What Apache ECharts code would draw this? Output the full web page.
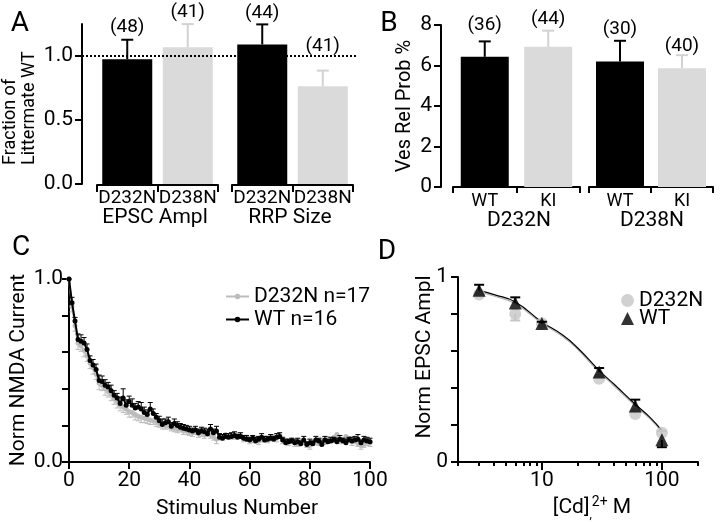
<!DOCTYPE html>
<html><head><meta charset="utf-8">
<script src="https://cdn.jsdelivr.net/npm/echarts@6/dist/echarts.min.js"></script>
<style>html,body{margin:0;padding:0;background:#fff}#c{width:720px;height:522px}</style>
</head><body><div id="c"></div>
<script>
// ---------- Panel A data ----------
const aCategories = ['D232N', 'D238N'];
const aGroupNames = ['EPSC Ampl', 'RRP Size'];
const aMeansG1 = [0.975, 1.068];
const aErrG1 = [0.152, 0.181];
const aNG1 = ['(48)', '(41)'];
const aMeansG2 = [1.09, 0.764];
const aErrG2 = [0.157, 0.122];
const aNG2 = ['(44)', '(41)'];
const aRefLine = 1.0;
const aTicks = [0, 0.5, 1.0];

// ---------- Panel B data ----------
const bCategories = ['WT', 'KI'];
const bGroupNames = ['D232N', 'D238N'];
const bMeansG1 = [6.43, 6.92];
const bErrG1 = [0.76, 0.8];
const bNG1 = ['(36)', '(44)'];
const bMeansG2 = [6.2, 5.87];
const bErrG2 = [1.02, 0.64];
const bNG2 = ['(30)', '(40)'];

// ---------- Panel C data (stimulus 0..100) ----------
const cWT = [1.00, 0.87, 0.77, 0.67, 0.66, 0.65, 0.615, 0.555, 0.53, 0.505,
 0.445, 0.44, 0.42, 0.41, 0.39, 0.365, 0.35, 0.32, 0.35, 0.31,
 0.33, 0.31, 0.295, 0.30, 0.29, 0.27, 0.26, 0.29, 0.265, 0.245,
 0.225, 0.205, 0.215, 0.22, 0.195, 0.21, 0.20, 0.19, 0.185, 0.18,
 0.175, 0.17, 0.175, 0.16, 0.17, 0.165, 0.155, 0.18, 0.16, 0.17,
 0.135, 0.13, 0.14, 0.135, 0.14, 0.145, 0.135, 0.14, 0.13, 0.125,
 0.12, 0.13, 0.115, 0.125, 0.135, 0.12, 0.125, 0.13, 0.125, 0.135,
 0.14, 0.12, 0.105, 0.11, 0.115, 0.105, 0.11, 0.10, 0.12, 0.095,
 0.105, 0.10, 0.12, 0.115, 0.095, 0.12, 0.11, 0.115, 0.12, 0.11,
 0.125, 0.115, 0.105, 0.12, 0.115, 0.12, 0.125, 0.105, 0.12, 0.115, 0.11];
const cWTErr = [0, 0.03, 0.02, 0.03, 0.035, 0.03, 0.03, 0.025, 0.03, 0.03,
 0.03, 0.03, 0.03, 0.025, 0.03, 0.025, 0.025, 0.035, 0.05, 0.03,
 0.03, 0.035, 0.025, 0.03, 0.035, 0.03, 0.025, 0.035, 0.025, 0.02,
 0.025, 0.03, 0.02, 0.025, 0.02, 0.025, 0.02, 0.02, 0.02, 0.02,
 0.02, 0.015, 0.02, 0.02, 0.02, 0.02, 0.025, 0.025, 0.02, 0.025,
 0.02, 0.02, 0.015, 0.02, 0.02, 0.02, 0.015, 0.02, 0.015, 0.02,
 0.015, 0.015, 0.02, 0.015, 0.02, 0.02, 0.015, 0.02, 0.015, 0.02,
 0.02, 0.015, 0.02, 0.015, 0.015, 0.02, 0.02, 0.015, 0.02, 0.015,
 0.02, 0.015, 0.02, 0.015, 0.02, 0.02, 0.015, 0.02, 0.015, 0.02,
 0.02, 0.015, 0.02, 0.015, 0.02, 0.02, 0.025, 0.015, 0.02, 0.02, 0.02];
const cKI = [1.00, 0.85, 0.745, 0.65, 0.635, 0.61, 0.58, 0.54, 0.515, 0.48,
 0.43, 0.42, 0.40, 0.385, 0.37, 0.345, 0.33, 0.31, 0.30, 0.29,
 0.275, 0.27, 0.26, 0.25, 0.245, 0.24, 0.235, 0.23, 0.225, 0.22,
 0.21, 0.205, 0.20, 0.20, 0.19, 0.185, 0.18, 0.18, 0.17, 0.17,
 0.165, 0.16, 0.165, 0.155, 0.16, 0.15, 0.155, 0.15, 0.14, 0.125,
 0.14, 0.135, 0.15, 0.14, 0.145, 0.14, 0.15, 0.145, 0.13, 0.135,
 0.12, 0.12, 0.13, 0.115, 0.125, 0.13, 0.12, 0.135, 0.14, 0.13,
 0.145, 0.12, 0.115, 0.11, 0.12, 0.105, 0.10, 0.115, 0.11, 0.10,
 0.09, 0.11, 0.115, 0.105, 0.12, 0.11, 0.13, 0.12, 0.135, 0.15,
 0.12, 0.125, 0.14, 0.13, 0.11, 0.12, 0.10, 0.09, 0.095, 0.11, 0.105];
const cKIErr = [0, 0.03, 0.03, 0.035, 0.03, 0.035, 0.03, 0.03, 0.035, 0.03,
 0.035, 0.03, 0.035, 0.03, 0.035, 0.03, 0.035, 0.03, 0.03, 0.03,
 0.03, 0.025, 0.03, 0.025, 0.03, 0.025, 0.025, 0.025, 0.02, 0.025,
 0.02, 0.025, 0.02, 0.02, 0.02, 0.02, 0.02, 0.015, 0.02, 0.02,
 0.02, 0.02, 0.015, 0.02, 0.02, 0.02, 0.015, 0.02, 0.02, 0.025,
 0.02, 0.015, 0.02, 0.015, 0.02, 0.015, 0.02, 0.015, 0.02, 0.015,
 0.02, 0.015, 0.02, 0.02, 0.015, 0.02, 0.015, 0.02, 0.015, 0.02,
 0.015, 0.02, 0.015, 0.02, 0.015, 0.02, 0.015, 0.02, 0.015, 0.02,
 0.02, 0.015, 0.02, 0.015, 0.02, 0.015, 0.02, 0.015, 0.02, 0.02,
 0.02, 0.015, 0.02, 0.015, 0.02, 0.02, 0.015, 0.02, 0.015, 0.02, 0.02];

// ---------- Panel D data ----------
const dDose = [3, 6, 10, 30, 60, 100];
const dWT = [0.928, 0.86, 0.748, 0.486, 0.303, 0.12];
const dWTErr = [0.03, 0.03, 0.01, 0.022, 0.034, -0.04];
const dKI = [0.905, 0.80, 0.75, 0.45, 0.26, 0.158];
const dKIErr = [0.01, -0.035, 0.01, 0.01, 0.01, 0.01];
const dFitDose = [3, 4, 6, 10, 15, 20, 30, 40, 60, 80, 100];
const dFitWT = [0.928, 0.905, 0.865, 0.757, 0.685, 0.615, 0.495, 0.42, 0.312, 0.24, 0.17];
const dFitKI = [0.92, 0.897, 0.855, 0.75, 0.677, 0.607, 0.486, 0.411, 0.304, 0.232, 0.163];
const dMajorTicks = [10, 100];
const dMinorTicks = [2, 3, 4, 5, 6, 7, 8, 9, 20, 30, 40, 50, 60, 70, 80, 90, 200];

// ---------- styles ----------
const FONT = 'Roboto, "DejaVu Sans", sans-serif';
const BLACK = '#000';
const BAR_GRAY = '#dadada';
const ERR_GRAY = '#d2d2d2';
const C_GRAY = '#bcbcbc';
const D_GRAY = '#c6c6c6';
const barColors = [BLACK, BAR_GRAY];
const barErrColors = [BLACK, ERR_GRAY];

const axisLine = {show: true, onZero: false, lineStyle: {color: BLACK, width: 2}};
function tick(len) { return {show: true, inside: false, length: len, lineStyle: {color: BLACK, width: 2}}; }
function lab(size, margin) { return {show: true, color: BLACK, fontSize: size, fontFamily: FONT, margin: margin}; }

function errorBars(o) {
  return {
    type: 'custom', xAxisIndex: o.xi, yAxisIndex: o.yi, z: o.z || 5, silent: true,
    data: o.ys.map((y, i) => [o.xs[i], y, o.errs[i], i]),
    renderItem(params, api) {
      const i = api.value(3);
      const p0 = api.coord([api.value(0), api.value(1)]);
      const p1 = api.coord([api.value(0), api.value(1) + api.value(2)]);
      const col = Array.isArray(o.color) ? o.color[i] : o.color;
      const st = {stroke: col, lineWidth: o.lw};
      const ch = [
        {type: 'line', shape: {x1: p0[0], y1: p0[1], x2: p1[0], y2: p1[1]}, style: st},
        {type: 'line', shape: {x1: p1[0] - o.cap, y1: p1[1], x2: p1[0] + o.cap, y2: p1[1]}, style: st}
      ];
      if (o.labels) {
        ch.push({type: 'text', x: p1[0], y: p1[1] - o.labelOffsets[i],
          style: {text: o.labels[i], fill: BLACK, fontSize: 19, fontFamily: FONT,
                  align: 'center', verticalAlign: 'middle', textAlign: 'center', textVerticalAlign: 'middle'}});
      }
      return {type: 'group', children: ch};
    }
  };
}
function bars(xi, yi, means, width) {
  return {type: 'bar', xAxisIndex: xi, yAxisIndex: yi, barWidth: width, z: 3, silent: true,
    data: means.map((v, i) => ({value: v, itemStyle: {color: barColors[i]}}))};
}
function txt(t, x, y, size, extra) {
  return Object.assign({type: 'text', x: x, y: y, silent: true,
    style: Object.assign({text: t, fill: BLACK, fontSize: size, fontFamily: FONT,
      align: 'center', verticalAlign: 'middle', textAlign: 'center', textVerticalAlign: 'middle'}, (extra && extra.style) || {})},
    (extra && extra.el) || {});
}
function rot(t, x, y, size) { return txt(t, x, y, size, {el: {rotation: Math.PI / 2}}); }

const catAxisA = (gi) => ({gridIndex: gi, type: 'category', data: aCategories, offset: 1,
  axisLine: axisLine, axisTick: Object.assign(tick(7), {alignWithLabel: false, interval: 0}),
  axisLabel: Object.assign(lab(19, 4), {interval: 0, hideOverlap: false}), splitLine: {show: false}});
const catAxisB = (gi) => ({gridIndex: gi, type: 'category', data: bCategories,
  axisLine: axisLine, axisTick: Object.assign(tick(6), {alignWithLabel: false, interval: 0}),
  axisLabel: Object.assign(lab(18, 5), {interval: 0, hideOverlap: false}), splitLine: {show: false}});

const option = {
  animation: false,
  textStyle: {fontFamily: FONT},
  grid: [
    {left: 82, top: 24, width: 276, height: 160, outerBoundsMode: 'none'},
    {left: 97, top: 24, width: 121, height: 160, outerBoundsMode: 'none'},
    {left: 232, top: 24, width: 121, height: 160, outerBoundsMode: 'none'},
    {left: 441, top: 25, width: 272, height: 162, outerBoundsMode: 'none'},
    {left: 453, top: 25, width: 127, height: 162, outerBoundsMode: 'none'},
    {left: 589, top: 25, width: 124, height: 162, outerBoundsMode: 'none'},
    {left: 69, top: 279, width: 301, height: 183, outerBoundsMode: 'none'},
    {left: 458, top: 277, width: 240, height: 185, outerBoundsMode: 'none'}
  ],
  xAxis: [
    {gridIndex: 0, type: 'value', min: 0, max: 1, show: false},
    catAxisA(1), catAxisA(2),
    {gridIndex: 3, type: 'value', min: 0, max: 1, show: false},
    catAxisB(4), catAxisB(5),
    {gridIndex: 6, type: 'value', min: 0, max: 100, interval: 20, axisLine: axisLine, axisTick: tick(7),
      axisLabel: lab(21, 8), splitLine: {show: false}},
    {gridIndex: 7, type: 'log', logBase: 10, min: 2, max: 200, position: 'bottom', axisLine: axisLine,
      axisTick: Object.assign(tick(8), {customValues: dMajorTicks}),
      axisLabel: Object.assign(lab(21, 8), {customValues: dMajorTicks}), splitLine: {show: false}, minorTick: {show: false}},
    {gridIndex: 7, type: 'log', logBase: 10, min: 2, max: 200, position: 'bottom', axisLine: {show: false},
      axisTick: Object.assign(tick(4), {customValues: dMinorTicks}), axisLabel: {show: false}, splitLine: {show: false}}
  ],
  yAxis: [
    {gridIndex: 0, type: 'value', min: 0, max: 1.25, axisLine: axisLine,
      axisTick: Object.assign(tick(7), {customValues: aTicks}),
      axisLabel: Object.assign(lab(21, 9), {customValues: aTicks, formatter: v => Number(v).toFixed(1)}), splitLine: {show: false}},
    {gridIndex: 1, type: 'value', min: 0, max: 1.25, show: false},
    {gridIndex: 2, type: 'value', min: 0, max: 1.25, show: false},
    {gridIndex: 3, type: 'value', min: 0, max: 8, interval: 2, axisLine: axisLine, axisTick: tick(7),
      axisLabel: lab(21, 9), splitLine: {show: false}},
    {gridIndex: 4, type: 'value', min: 0, max: 8, show: false},
    {gridIndex: 5, type: 'value', min: 0, max: 8, show: false},
    {gridIndex: 6, type: 'value', min: 0, max: 1, interval: 0.2, axisLine: axisLine, axisTick: tick(7),
      axisLabel: Object.assign(lab(21, 6), {customValues: [0, 1], formatter: v => Number(v).toFixed(1)}), splitLine: {show: false}},
    {gridIndex: 7, type: 'value', min: 0, max: 1, interval: 0.2, axisLine: axisLine, axisTick: tick(7),
      axisLabel: Object.assign(lab(21, 10), {customValues: [0, 1], formatter: v => String(Math.round(v))}), splitLine: {show: false}}
  ],
  legend: [
    {data: ['D232N n=17', 'WT n=16'], orient: 'vertical', left: 220, top: 281, itemWidth: 23, itemHeight: 7,
      itemGap: 2, selectedMode: false, textStyle: {fontSize: 21, color: BLACK, fontFamily: FONT}},
    {data: ['D232N', 'WT'], orient: 'vertical', left: 616, top: 285, itemWidth: 13, itemHeight: 13,
      itemGap: -3, selectedMode: false, textStyle: {fontSize: 21, color: BLACK, fontFamily: FONT}}
  ],
  series: [
    // A
    {type: 'line', xAxisIndex: 0, yAxisIndex: 0, data: [], z: 1, silent: true,
      markLine: {silent: true, symbol: 'none', label: {show: false}, animation: false,
        lineStyle: {type: [2, 2], color: BLACK, width: 2}, data: [{yAxis: aRefLine}]}},
    bars(1, 1, aMeansG1, 50), bars(2, 2, aMeansG2, 50),
    errorBars({xi: 1, yi: 1, xs: [0, 1], ys: aMeansG1, errs: aErrG1, color: barErrColors, lw: 2, cap: 6, labels: aNG1, labelOffsets: [12, 12]}),
    errorBars({xi: 2, yi: 2, xs: [0, 1], ys: aMeansG2, errs: aErrG2, color: barErrColors, lw: 2, cap: 6, labels: aNG2, labelOffsets: [11, 24]}),
    // B
    bars(4, 4, bMeansG1, 48), bars(5, 5, bMeansG2, 48),
    errorBars({xi: 4, yi: 4, xs: [0, 1], ys: bMeansG1, errs: bErrG1, color: barErrColors, lw: 2, cap: 6, labels: bNG1, labelOffsets: [16, 11]}),
    errorBars({xi: 5, yi: 5, xs: [0, 1], ys: bMeansG2, errs: bErrG2, color: barErrColors, lw: 2, cap: 6, labels: bNG2, labelOffsets: [12, 9]}),
    // C
    errorBars({xi: 6, yi: 6, xs: cKI.map((v, i) => i), ys: cKI, errs: cKIErr.map(e => -e), color: C_GRAY, lw: 1, cap: 2.5, z: 2}),
    {name: 'D232N n=17', type: 'line', xAxisIndex: 6, yAxisIndex: 6, z: 3, silent: true,
      data: cKI.map((v, i) => [i, v]), symbol: 'circle', symbolSize: 5, showSymbol: true,
      lineStyle: {color: C_GRAY, width: 2}, itemStyle: {color: C_GRAY}},
    errorBars({xi: 6, yi: 6, xs: cWT.map((v, i) => i), ys: cWT, errs: cWTErr, color: BLACK, lw: 1, cap: 2.5, z: 4}),
    {name: 'WT n=16', type: 'line', xAxisIndex: 6, yAxisIndex: 6, z: 5, silent: true,
      data: cWT.map((v, i) => [i, v]), symbol: 'circle', symbolSize: 5, showSymbol: true,
      lineStyle: {color: BLACK, width: 2}, itemStyle: {color: BLACK}},
    // D
    {type: 'line', xAxisIndex: 7, yAxisIndex: 7, z: 2, silent: true, smooth: true, symbol: 'none',
      data: dFitDose.map((x, i) => [x, dFitKI[i]]), lineStyle: {color: '#b0b0b0', width: 1.2}},
    {type: 'line', xAxisIndex: 7, yAxisIndex: 7, z: 3, silent: true, smooth: true, symbol: 'none',
      data: dFitDose.map((x, i) => [x, dFitWT[i]]), lineStyle: {color: BLACK, width: 1.2}},
    errorBars({xi: 7, yi: 7, xs: dDose, ys: dKI, errs: dKIErr, color: D_GRAY, lw: 2, cap: 5, z: 4}),
    {name: 'D232N', type: 'scatter', xAxisIndex: 7, yAxisIndex: 7, z: 5, silent: true,
      data: dDose.map((x, i) => [x, dKI[i]]), symbol: 'circle', symbolSize: 12, itemStyle: {color: D_GRAY}},
    errorBars({xi: 7, yi: 7, xs: dDose, ys: dWT, errs: dWTErr, color: BLACK, lw: 2, cap: 5, z: 6}),
    {name: 'WT', type: 'scatter', xAxisIndex: 7, yAxisIndex: 7, z: 7, silent: true,
      data: dDose.map((x, i) => [x, dWT[i]]), symbol: 'triangle', symbolSize: 13, itemStyle: {color: BLACK}}
  ],
  graphic: [
    txt('A', 20, 24, 28), txt('B', 389, 24, 28), txt('C', 21, 248, 28), txt('D', 387, 252, 28),
    {type: 'text', x: 20, y: 165, rotation: Math.PI / 2, silent: true,
      style: {text: 'Fraction of\nLittermate WT', fill: BLACK, fontSize: 18, lineHeight: 19, fontFamily: FONT,
        align: 'left', verticalAlign: 'middle', textAlign: 'left', textVerticalAlign: 'middle'}},
    rot('Ves Rel Prob %', 405, 106, 20),
    rot('Norm NMDA Current', 19, 370, 21),
    rot('Norm EPSC Ampl', 425, 357, 21),
    txt(aGroupNames[0], 155, 218, 21), txt(aGroupNames[1], 290, 218, 21),
    txt(bGroupNames[0], 519, 221, 21), txt(bGroupNames[1], 652, 221, 21),
    txt('Stimulus Number', 237, 509, 21),
    {type: 'text', x: 592, y: 508, silent: true,
      style: {text: '[Cd]{sub|,}{sup|2+} M', fill: BLACK, fontSize: 21, fontFamily: FONT, lineHeight: 26,
        align: 'center', verticalAlign: 'middle', textAlign: 'center', textVerticalAlign: 'middle',
        rich: {sub: {fontSize: 12, fontFamily: FONT, verticalAlign: 'bottom', lineHeight: 26},
               sup: {fontSize: 14, fontFamily: FONT, verticalAlign: 'top', lineHeight: 14}}}}
  ]
};
const chart = echarts.init(document.getElementById('c'), null, {renderer: 'canvas'});
chart.setOption(option);
</script>
</body></html>
